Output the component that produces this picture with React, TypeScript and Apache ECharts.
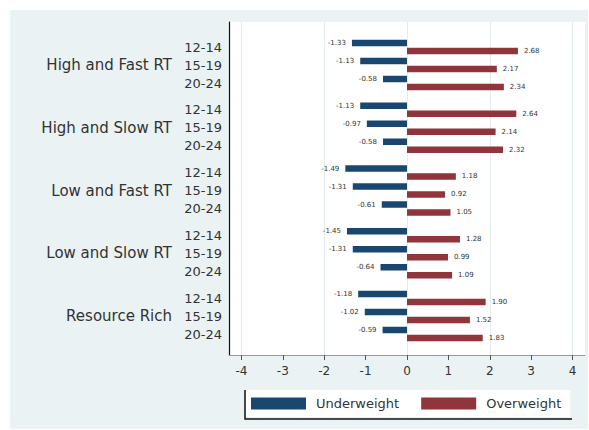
import React, { useEffect, useRef } from 'react';
import * as echarts from 'echarts';

const groupNames = ['High and Fast RT', 'High and Slow RT', 'Low and Fast RT', 'Low and Slow RT', 'Resource Rich'];
const ageBands = ['12-14', '15-19', '20-24'];
const underweight = [
  [-1.33, -1.13, -0.58],
  [-1.13, -0.97, -0.58],
  [-1.49, -1.31, -0.61],
  [-1.45, -1.31, -0.64],
  [-1.18, -1.02, -0.59],
];
const overweight = [
  [2.68, 2.17, 2.34],
  [2.64, 2.14, 2.32],
  [1.18, 0.92, 1.05],
  [1.28, 0.99, 1.09],
  [1.90, 1.52, 1.83],
];
const xTickValues = [-4, -3, -2, -1, 0, 1, 2, 3, 4];
const xGridValues = [-4, -2, 0, 2, 4];
const legendNames = ['Underweight', 'Overweight'];

const BLUE = '#1a476f';
const RED = '#90353b';
const FONT = 'DejaVu Sans';

export default function App() {
  const ref = useRef<HTMLDivElement>(null);
  useEffect(() => {
    const chart = echarts.init(ref.current!, null, { renderer: 'svg' });
    const X_MIN = -4.3;
    const X_MAX = 4.3;
    const plotLeft = 219;
    const plotTop = 12;
    const plotWidth = 356;
    const plotHeight = 333;
    const groupTop0 = 28;
    const groupPitch = 62.75;
    const groupHeight = 54;

    const grid: any[] = [
      { left: plotLeft, top: plotTop, width: plotWidth, height: plotHeight, show: true, backgroundColor: '#fff', borderWidth: 0 },
    ];
    const xAxis: any[] = [
      {
        type: 'value', gridIndex: 0, min: X_MIN, max: X_MAX, position: 'bottom',
        axisLine: { show: true, onZero: false, lineStyle: { color: '#999', width: 1 } },
        axisTick: { show: true, length: 5, customValues: xTickValues, lineStyle: { color: '#555' } },
        axisLabel: { show: true, customValues: xTickValues, margin: 10, fontFamily: FONT, fontSize: 12, color: '#333' },
        splitLine: { show: false },
      },
      {
        type: 'value', gridIndex: 0, min: X_MIN, max: X_MAX, position: 'bottom',
        axisLine: { show: false, onZero: false },
        axisTick: { show: false, customValues: xGridValues },
        axisLabel: { show: false },
        splitLine: { show: true, lineStyle: { color: '#e3ebee', width: 1 } },
      },
    ];
    const yAxis: any[] = [
      {
        type: 'value', gridIndex: 0, min: 0, max: 1, position: 'left',
        axisLine: { show: true, onZero: false, lineStyle: { color: '#111', width: 1.2 } },
        axisTick: { show: false }, axisLabel: { show: false }, splitLine: { show: false },
      },
    ];
    const series: any[] = [];

    groupNames.forEach((name, i) => {
      const gi = i + 1;
      grid.push({ left: plotLeft, top: groupTop0 + groupPitch * i, width: plotWidth, height: groupHeight, show: false });
      xAxis.push({
        type: 'value', gridIndex: gi, min: X_MIN, max: X_MAX, show: false,
      });
      yAxis.push({
        type: 'category', gridIndex: gi, data: ageBands, inverse: true, position: 'left',
        name, nameLocation: 'middle', nameGap: 57, nameRotate: 0,
        nameTextStyle: { fontFamily: FONT, fontSize: 15, color: '#333', align: 'right', verticalAlign: 'middle' },
        axisLine: { show: false, onZero: false }, axisTick: { show: false },
        axisLabel: { margin: 7, fontFamily: FONT, fontSize: 13, color: '#333' },
        splitLine: { show: false },
      });
      series.push({
        type: 'bar', name: legendNames[0], xAxisIndex: gi + 1, yAxisIndex: gi,
        data: underweight[i], barWidth: 6.5, barGap: '23%',
        itemStyle: { color: BLUE },
        label: { show: true, position: 'left', distance: 6, fontFamily: FONT, fontSize: 7, color: '#333',
          formatter: (p: any) => Number(p.value).toFixed(2) },
      });
      series.push({
        type: 'bar', name: legendNames[1], xAxisIndex: gi + 1, yAxisIndex: gi,
        data: overweight[i], barWidth: 6.5, barGap: '23%',
        itemStyle: { color: RED },
        label: { show: true, position: 'right', distance: 6, fontFamily: FONT, fontSize: 7, color: '#333',
          formatter: (p: any) => Number(p.value).toFixed(2) },
      });
    });

    chart.setOption({
      animation: false,
      backgroundColor: '#eaf2f3',
      grid, xAxis, yAxis, series,
      legend: {
        data: legendNames,
        left: 235, top: 380,
        orient: 'horizontal',
        icon: 'rect',
        itemWidth: 55, itemHeight: 12, itemGap: 22,
        padding: [7, 9, 7, 6],
        backgroundColor: '#fff',
        textStyle: { fontFamily: FONT, fontSize: 13, color: '#333', padding: [0, 0, 0, 5] },
      },
      graphic: [
        {
          type: 'polyline',
          shape: { points: [[235, 380], [235, 409], [562, 409]] },
          style: { stroke: '#111', lineWidth: 1.5, fill: null },
          z: 10,
        },
      ],
    });
    return () => chart.dispose();
  }, []);

  return (
    <div style={{ position: 'absolute', left: 0, top: 0, width: 589, height: 430, background: '#fff' }}>
      <div ref={ref} style={{ position: 'absolute', left: 10, top: 10, width: 578, height: 419 }} />
    </div>
  );
}
